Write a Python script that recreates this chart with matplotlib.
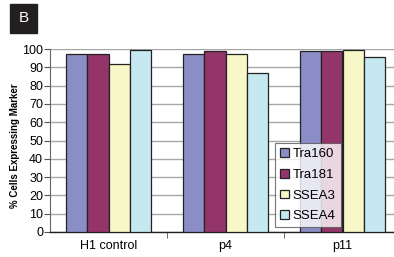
import matplotlib
matplotlib.use("Agg")
import matplotlib.pyplot as plt
import numpy as np

plt.rcParams['font.family'] = ['Liberation Sans', 'DejaVu Sans']

groups = ["H1 control", "p4", "p11"]
series = ["Tra160", "Tra181", "SSEA3", "SSEA4"]
tra160 = [97, 97.5, 99]
tra181 = [97, 99, 99]
ssea3 = [92, 97, 99.6]
ssea4 = [99.7, 87, 95.8]
colors = ["#8b8dc6", "#94356a", "#f8f7c8", "#c5e8f1"]
yticks = [0, 10, 20, 30, 40, 50, 60, 70, 80, 90, 100]

fig = plt.figure(figsize=(3.94, 2.57), dpi=100)
W, H = 394, 257
ax = fig.add_axes([50 / W, 1 - 232 / H, 351 / W, 183 / H])

x = np.arange(len(groups))
bw = 0.18
data = [tra160, tra181, ssea3, ssea4]
for i, (vals, c, name) in enumerate(zip(data, colors, series)):
    ax.bar(x + (i - 1.5) * bw, vals, bw, color=c, edgecolor="#222222",
           linewidth=0.9, label=name, zorder=3)

ax.set_xlim(-0.5, 2.5)
ax.set_ylim(0, 100)
ax.set_yticks(yticks)
ax.set_yticklabels([str(t) for t in yticks], fontsize=9)
ax.yaxis.grid(True, color="#a6a6a6", linewidth=1.0, zorder=0)
ax.set_axisbelow(True)
ax.set_xticks(x)
ax.set_xticklabels(groups, fontsize=9)
ax.tick_params(axis="x", length=0, pad=6)
ax.set_xticks([0.5, 1.5], minor=True)
ax.tick_params(axis="x", which="minor", length=4, color="#555555")
ax.tick_params(axis="y", length=4, color="#555555", pad=1)
for s in ["top", "right"]:
    ax.spines[s].set_visible(False)
ax.spines["left"].set_color("#666666")
ax.spines["bottom"].set_color("#222222")
ax.spines["bottom"].set_linewidth(1.0)

fig.text(15 / W, 1 - 146 / H, "% Cells Expressing Marker", rotation=90,
         fontsize=7, fontweight="bold", ha="center", va="center")

leg = ax.legend(loc="upper left", bbox_to_anchor=((275 - 50) / 351, (232 - 143) / 183),
                fontsize=9.5, frameon=True, fancybox=False, edgecolor="#555555",
                handlelength=0.65, handleheight=0.65, handletextpad=0.3,
                labelspacing=0.65, borderpad=0.4, borderaxespad=0)
leg.get_frame().set_linewidth(0.8)

fig.patches.append(plt.Rectangle((10 / W, 1 - 33 / H), 27 / W, 29 / H,
                                 transform=fig.transFigure, color="#231f20"))
fig.text(23.5 / W, 1 - 18.5 / H, "B", color="white", fontsize=11,
         ha="center", va="center")

fig.savefig("out.png", dpi=100)
